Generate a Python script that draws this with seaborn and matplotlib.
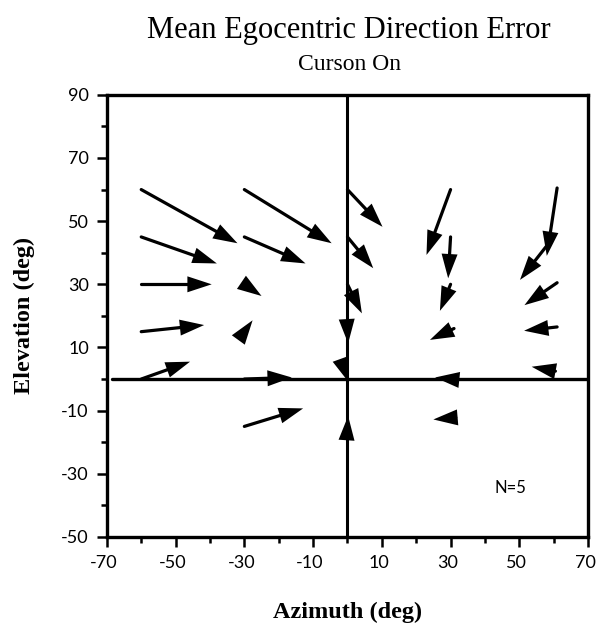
import matplotlib
matplotlib.use("Agg")
import matplotlib.pyplot as plt
from matplotlib.ticker import FixedLocator
from matplotlib.transforms import ScaledTranslation
import numpy as np
import seaborn as sns

# target directions (arrow tails) and perceived directions (arrow tips), deg
az_tail = [-60, -60, -60, -60, -60,
           -30, -30, -30, -30, -30, -30,
           0, 0, 0, 0, 0, 0,
           30, 30, 30, 31, 30, 31.5,
           61, 60, 61, 61, 60.5]
el_tail = [60, 45, 30, 15, 0,
           60, 45, 30, 15, 0, -15,
           60, 45, 30, 15, 0, -15,
           60, 45, 30, 16, 0, -12.2,
           60.5, 45, 30.5, 16.5, 2.5]
az_head = [-32, -38, -39.5, -41.7, -45.8,
           -4.6, -12.2, -25, -27.6, -16.2, -12.9,
           10.2, 7.5, 4.2, 0.2, 0.3, 0.2,
           23, 29.3, 26.9, 24, 25.5, 25,
           58, 50.2, 51.5, 51.4, 53.6]
el_head = [43, 36.6, 30, 17.1, 5.5,
           43, 36.6, 26.3, 18.6, 0.5, -9.3,
           48.2, 35.1, 20.8, 11.3, -0.9, -11.7,
           39.3, 31.9, 21.6, 12.4, 0.5, -12.8,
           39, 31.4, 23.4, 15.3, 3.9]

x_labels = [-70, -50, -30, -10, 10, 30, 50, 70]
y_labels = [90, 70, 50, 30, 10, -10, -30, -50]

sns.set_theme(style="ticks")
plt.rcParams['font.family'] = ['Liberation Serif', 'DejaVu Serif']
plt.rcParams['axes.unicode_minus'] = False

fig = plt.figure(figsize=(5.97, 6.28), dpi=100)
ax = fig.add_axes([0.179, 0.145, 0.806, 0.704])
ax.set_xlim(-70, 70)
ax.set_ylim(-50, 90)

ax.axhline(0, xmin=0.01, color='black', lw=2.4, zorder=1)
ax.axvline(0, color='black', lw=2.2, zorder=1)

# shaft drawn as a line, head drawn on its own so short arrows keep a full head
inv = ax.transData.inverted()
for x0, y0, x1, y1 in zip(az_tail, el_tail, az_head, el_head):
    p0 = ax.transData.transform((x0, y0))
    p1 = ax.transData.transform((x1, y1))
    d = p1 - p0
    u = d / np.hypot(*d)
    if np.hypot(*d) > 16:
        b = inv.transform(p1 - u * 14)
        ax.plot([x0, b[0]], [y0, b[1]], color='black', lw=2.3,
                solid_capstyle='round', zorder=3)
    back = inv.transform(p1 - u * 40)
    ax.annotate('', xy=(x1, y1), xytext=tuple(back),
                arrowprops=dict(arrowstyle='simple,head_length=1.75,head_width=1.15,tail_width=0',
                                mutation_scale=10, facecolor='black', edgecolor='none', lw=0,
                                shrinkA=0, shrinkB=0),
                zorder=4)

ax.set_xticks(x_labels)
ax.set_yticks(y_labels)
ax.xaxis.set_minor_locator(FixedLocator([-60, -40, -20, 0, 20, 40, 60]))
ax.yaxis.set_minor_locator(FixedLocator([80, 60, 40, 20, 0, -20, -40]))
ax.tick_params(which='major', direction='out', length=7, width=1.8, color='black',
               labelsize=13, labelcolor='black', pad=6)
ax.tick_params(which='minor', direction='out', length=4, width=1.8, color='black')
shift = ScaledTranslation(-3 / 100, 0, fig.dpi_scale_trans)
for lab in ax.get_xticklabels():
    lab.set_transform(lab.get_transform() + shift)
for lab in ax.get_xticklabels() + ax.get_yticklabels():
    lab.set_fontfamily(['Lato', 'DejaVu Sans'])

for sp in ax.spines.values():
    sp.set_linewidth(2.4)
    sp.set_color('black')

ax.text(47.5, -34.5, 'N=5', ha='center', va='center', fontsize=12,
        family=['Lato', 'DejaVu Sans'], color='black')

ax.set_xlabel('Azimuth (deg)', fontsize=17.5, fontweight='bold', labelpad=22, color='black')
ax.set_ylabel('Elevation (deg)', fontsize=17.5, fontweight='bold', color='black')
ax.yaxis.set_label_coords(-0.15, 0.5)

fig.text(0.585, 0.952, 'Mean Egocentric Direction Error', ha='center', va='center',
         fontsize=22, color='black')
fig.text(0.586, 0.898, 'Curson On', ha='center', va='center', fontsize=17, color='black')

fig.savefig('out.png', dpi=100, facecolor='white')
